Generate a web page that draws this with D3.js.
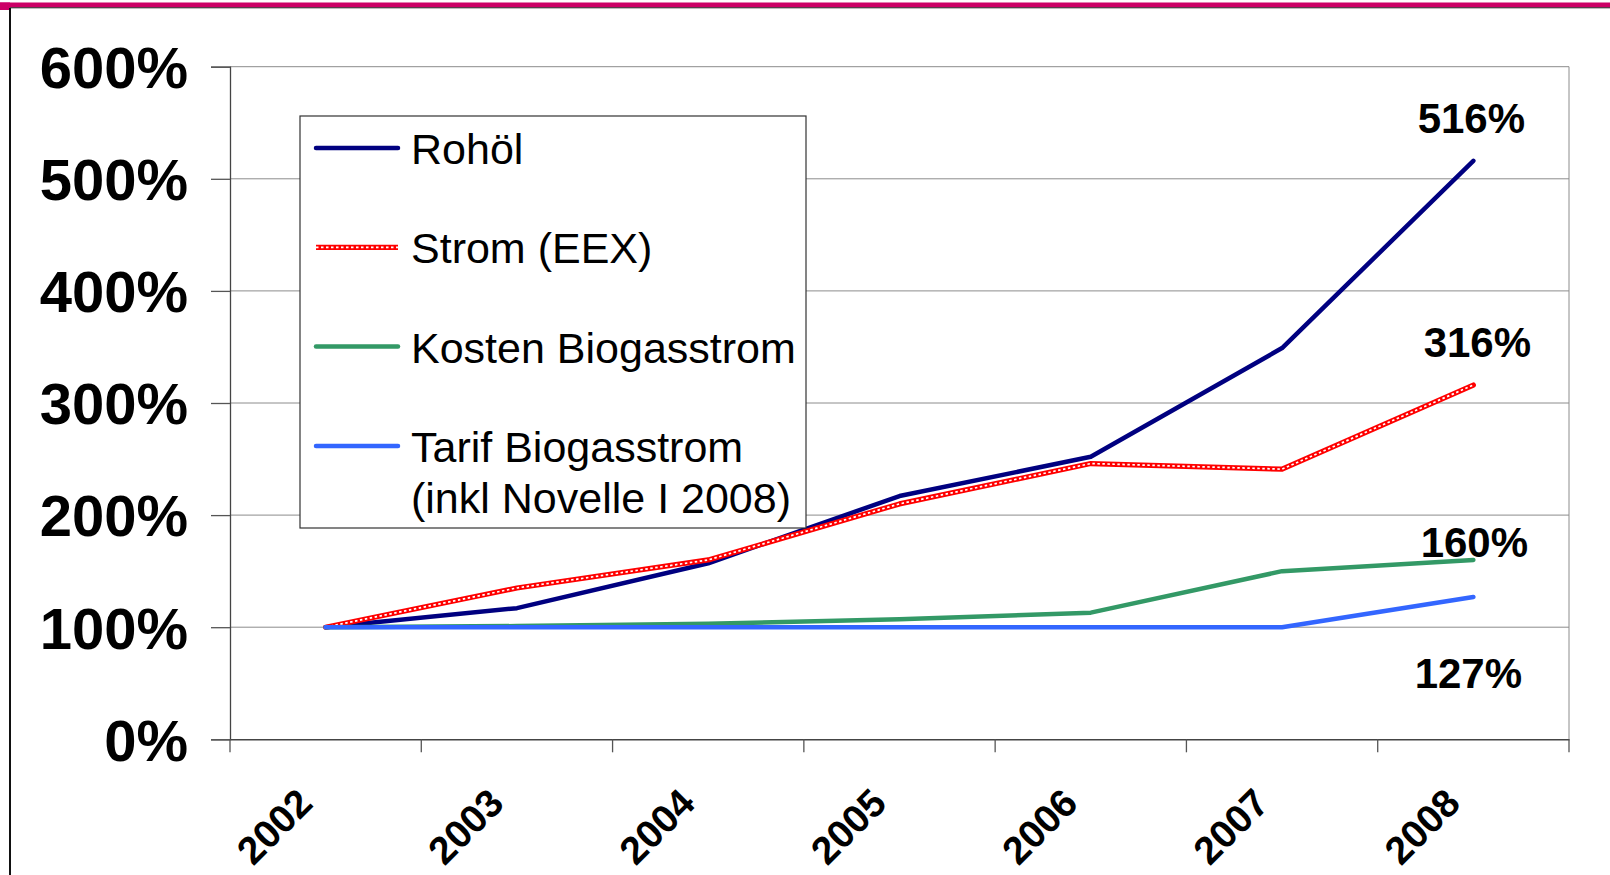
<!DOCTYPE html>
<html>
<head>
<meta charset="utf-8">
<script src="https://cdn.jsdelivr.net/npm/d3@7"></script>
<style>
    body { margin: 0; background: #fff; }
    svg { display: block; font-family: "Liberation Sans", Arial, sans-serif; }
</style>
</head>
<body>
<script>
const years = ["2002", "2003", "2004", "2005", "2006", "2007", "2008"];
const rohoel = [100, 117, 157, 217, 252, 349, 516];
const strom = [100, 135, 160, 210, 246, 241, 316];
const kosten = [100, 101, 103, 107, 113, 150, 160];
const tarif = [100, 100, 100, 100, 100, 100, 127];
const yTicks = [0, 100, 200, 300, 400, 500, 600];

const series = [
    { name: ["Rohöl"], values: rohoel, color: "#000080", dotted: false },
    { name: ["Strom (EEX)"], values: strom, color: "#ff0000", dotted: true },
    { name: ["Kosten Biogasstrom"], values: kosten, color: "#339966", dotted: false },
    { name: ["Tarif Biogasstrom", "(inkl Novelle I 2008)"], values: tarif, color: "#3366ff", dotted: false },
];

// end labels: offset from the last point of each series
const endLabels = [
    { values: rohoel, dx: -2, dy: -28 },
    { values: strom, dx: 4, dy: -28 },
    { values: kosten, dx: 1, dy: -3 },
    { values: tarif, dx: -5, dy: 91 },
];

const width = 1610;
const height = 875;
const margin = { top: 66.7, right: 41, bottom: 135.7, left: 230 };

const svg = d3
    .select("body")
    .append("svg")
    .attr("width", width)
    .attr("height", height);

// frame
svg.append("rect").attr("x", 0).attr("y", 2.5).attr("width", width).attr("height", 5).attr("fill", "#cc0066");
svg.append("rect").attr("x", 0).attr("y", 2.5).attr("width", 10).attr("height", 7.5).attr("fill", "#cc0066");
svg.append("line").attr("x1", 10).attr("x2", width).attr("y1", 7.8).attr("y2", 7.8)
    .attr("stroke", "#222").attr("stroke-width", 1);
svg.append("line").attr("x1", 10).attr("x2", 10).attr("y1", 8).attr("y2", height)
    .attr("stroke", "#111").attr("stroke-width", 2);

const x = d3.scaleBand()
    .domain(years)
    .range([margin.left, width - margin.right])
    .padding(0);

const y = d3.scaleLinear()
    .domain([0, 600])
    .range([height - margin.bottom, margin.top]);

const px = (d, i) => x(years[i]) + x.bandwidth() / 2;

// gridlines
svg.append("g")
    .selectAll("line")
    .data(yTicks.filter(d => d > 0))
    .enter()
    .append("line")
    .attr("x1", margin.left)
    .attr("x2", width - margin.right)
    .attr("y1", d => y(d))
    .attr("y2", d => y(d))
    .attr("stroke", "#8c8c8c")
    .attr("stroke-width", 1);

// right border of plot area
svg.append("line")
    .attr("x1", width - margin.right)
    .attr("x2", width - margin.right)
    .attr("y1", margin.top)
    .attr("y2", height - margin.bottom)
    .attr("stroke", "#8c8c8c");

const yAxis = svg.append("g")
    .attr("transform", "translate(" + margin.left + ",0)")
    .call(d3.axisLeft(y).tickValues(yTicks).tickSize(19).tickFormat(d => d + "%"));

yAxis.select(".domain").attr("stroke", "#444").attr("stroke-width", 1.3);
yAxis.selectAll(".tick line").attr("stroke", "#555").attr("stroke-width", 1.3);
yAxis.selectAll(".tick text")
    .attr("x", -42)
    .attr("dy", "0.36em")
    .style("font-size", "58px")
    .style("font-weight", "bold")
    .attr("fill", "#000");

const xAxis = svg.append("g")
    .attr("transform", "translate(0," + (height - margin.bottom) + ")")
    .call(d3.axisBottom(x).tickValues([]).tickSize(0));

xAxis.select(".domain").attr("stroke", "#444").attr("stroke-width", 1.5);

// category boundary ticks
svg.append("g")
    .selectAll("line")
    .data(years.concat(["end"]))
    .enter()
    .append("line")
    .attr("x1", (d, i) => margin.left + i * x.bandwidth())
    .attr("x2", (d, i) => margin.left + i * x.bandwidth())
    .attr("y1", height - margin.bottom)
    .attr("y2", height - margin.bottom + 13)
    .attr("stroke", "#555")
    .attr("stroke-width", 1.3);

svg.append("g")
    .selectAll("text")
    .data(years)
    .enter()
    .append("text")
    .attr("transform", d => "translate(" + (x(d) + x.bandwidth() / 2 - 11) + "," + (height - margin.bottom + 66) + ") rotate(-45)")
    .attr("text-anchor", "end")
    .style("font-size", "39px")
    .style("font-weight", "bold")
    .text(d => d);

// lines
const line = d3.line()
    .x(px)
    .y(d => y(d));

const lines = svg.append("g")
    .selectAll("g")
    .data(series)
    .enter()
    .append("g");

lines.append("path")
    .attr("d", d => line(d.values))
    .attr("fill", "none")
    .attr("stroke", d => d.color)
    .attr("stroke-width", d => d.dotted ? 5.2 : 4.5)
    .attr("stroke-linejoin", "round")
    .attr("stroke-linecap", "round");

lines.filter(d => d.dotted)
    .append("path")
    .attr("d", d => line(d.values))
    .attr("fill", "none")
    .attr("stroke", "#fff")
    .attr("stroke-width", 1.7)
    .attr("stroke-dasharray", "2.5,2.5");

// end value labels
svg.append("g")
    .selectAll("text")
    .data(endLabels)
    .enter()
    .append("text")
    .attr("x", d => px(null, years.length - 1) + d.dx)
    .attr("y", d => y(d.values[d.values.length - 1]) + d.dy)
    .attr("text-anchor", "middle")
    .style("font-size", "42px")
    .style("font-weight", "bold")
    .text(d => d.values[d.values.length - 1] + "%");

// legend
const legend = svg.append("g").attr("transform", "translate(300,116)");

legend.append("rect")
    .attr("width", 506)
    .attr("height", 412)
    .attr("fill", "#fff")
    .attr("stroke", "#333")
    .attr("stroke-width", 1.2);

const items = legend.selectAll("g")
    .data(series)
    .enter()
    .append("g")
    .attr("transform", (d, i) => "translate(0," + (32 + i * 99.3) + ")");

items.append("line")
    .attr("x1", 16)
    .attr("x2", 98)
    .attr("stroke", d => d.color)
    .attr("stroke-width", d => d.dotted ? 5.2 : 4.5)
    .attr("stroke-linecap", d => d.dotted ? "butt" : "round");

items.filter(d => d.dotted)
    .append("line")
    .attr("x1", 16)
    .attr("x2", 98)
    .attr("stroke", "#fff")
    .attr("stroke-width", 1.7)
    .attr("stroke-dasharray", "2.5,2.5");

items.append("text")
    .attr("x", 111)
    .attr("y", 16)
    .style("font-size", "43px")
    .selectAll("tspan")
    .data(d => d.name)
    .enter()
    .append("tspan")
    .attr("x", 111)
    .attr("dy", (d, i) => i === 0 ? 0 : 51)
    .text(d => d);
</script>
</body>
</html>
